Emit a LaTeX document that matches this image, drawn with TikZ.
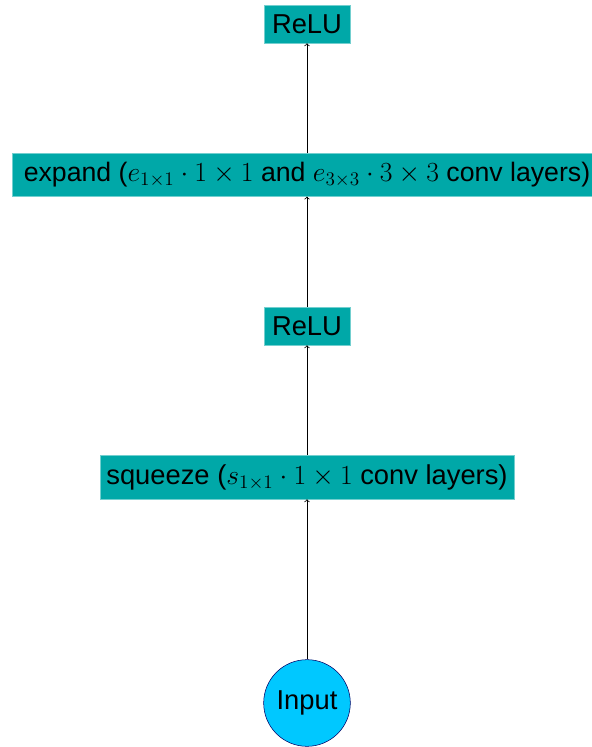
\documentclass[tikz,border=0pt]{standalone}
\usepackage{fontspec}
\setmainfont{Liberation Sans}
\usetikzlibrary{arrows}

\definecolor{turquesa}{RGB}{0,168,168}
\definecolor{celeste}{RGB}{0,200,255}

\begin{document}
\begin{tikzpicture}[x=0.75pt,y=0.75pt]

    % Estilos:
    \tikzstyle{capa}=[draw=turquesa!55!white, fill=turquesa, text centered,
    inner sep=0pt, minimum height=28.5pt,
    font=\fontsize{20.5}{24}\selectfont]
    \tikzstyle{entrada}=[circle, draw=blue!40!black, fill=celeste,
    minimum size=65pt, inner sep=0pt, font=\fontsize{20.5}{24}\selectfont]
    \tikzstyle{line}=[draw, line width=0.6pt, color=black, ->]

    \newcommand{\capa}[3]{node (c#1) [capa,#3] {#2}}

    \useasboundingbox (0,0) rectangle (592,747);

    % Nodos:
    \node (cin) [entrada] at (307,44) {Input};
    \path (cin)+(0,226) \capa{sq}{squeeze ($s_{1\times1}\cdot 1\times 1$ conv layers)}{minimum width=310.5pt,minimum height=33pt};
    \path (csq)+(0,151) \capa{r1}{ReLU}{minimum width=64.5pt};
    \path (cr1)+(0,151) \capa{ex}{expand ($e_{1\times1}\cdot 1\times 1$ and $e_{3\times3}\cdot 3\times 3$ conv layers)}{minimum width=442.5pt,minimum height=32pt,font=\fontsize{20}{24}\selectfont};
    \path (cex)+(0,151) \capa{r2}{ReLU}{minimum width=64.5pt};

    % Flechas:
    \path [line] (cin) -- (csq);
    \path [line] (csq) -- (cr1);
    \path [line] (cr1) -- (cex);
    \path [line] (cex) -- (cr2);

\end{tikzpicture}
\end{document}
